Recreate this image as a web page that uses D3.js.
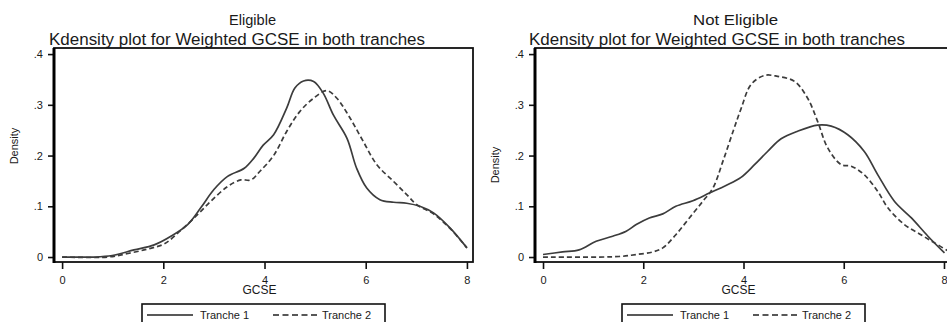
<!DOCTYPE html>
<html>
<head>
<meta charset="utf-8">
<script src="https://cdn.jsdelivr.net/npm/d3@7"></script>
<style>
  body { margin: 0; background: #fff; }
  svg { display: block; }
  text { font-family: "Liberation Sans", Arial, sans-serif; fill: #1a1a1a; }
</style>
</head>
<body>
<svg id="chart" width="947" height="322"></svg>
<script>
// values: [GCSE, density]
const xTicks = [0, 2, 4, 6, 8]
const yTicks = [0, 0.1, 0.2, 0.3, 0.4]
const yTickLabels = ['0', '.1', '.2', '.3', '.4']
const seriesNames = ['Tranche 1', 'Tranche 2']

const eligibleT1 = [[0,0],[0.63,0],[0.99,0.003],[1.42,0.014],[1.82,0.024],[2.15,0.041],[2.48,0.064],[2.74,0.097],[3.0,0.133],[3.27,0.159],[3.6,0.175],[3.79,0.195],[3.97,0.22],[4.18,0.241],[4.44,0.294],[4.6,0.333],[4.77,0.347],[4.97,0.346],[5.16,0.323],[5.36,0.28],[5.63,0.234],[5.82,0.175],[6.02,0.136],[6.28,0.113],[6.55,0.108],[6.81,0.106],[7.07,0.1],[7.34,0.087],[7.67,0.057],[8.0,0.018]]
const eligibleT2 = [[0,0],[0.9,0],[1.3,0.007],[1.7,0.016],[2.02,0.026],[2.34,0.052],[2.67,0.083],[2.94,0.11],[3.27,0.139],[3.53,0.152],[3.73,0.152],[3.91,0.169],[4.18,0.2],[4.44,0.248],[4.7,0.287],[4.97,0.313],[5.23,0.328],[5.43,0.313],[5.69,0.274],[5.95,0.228],[6.22,0.182],[6.55,0.149],[6.81,0.123],[7.01,0.103],[7.34,0.085],[7.67,0.056],[8.0,0.018]]
const notEligibleT1 = [[0,0.005],[0.39,0.01],[0.72,0.014],[1.06,0.031],[1.39,0.041],[1.66,0.051],[1.86,0.064],[2.12,0.077],[2.39,0.085],[2.65,0.1],[2.99,0.111],[3.32,0.126],[3.65,0.141],[3.95,0.157],[4.22,0.182],[4.48,0.208],[4.75,0.233],[5.08,0.248],[5.48,0.26],[5.75,0.258],[6.08,0.241],[6.41,0.208],[6.68,0.162],[7.01,0.11],[7.35,0.077],[7.68,0.041],[8.01,0.008]]
const notEligibleT2 = [[0,0],[1.52,0.001],[1.86,0.005],[2.19,0.01],[2.39,0.018],[2.65,0.044],[2.92,0.077],[3.19,0.11],[3.39,0.136],[3.59,0.189],[3.8,0.25],[3.95,0.292],[4.15,0.34],[4.42,0.358],[4.68,0.356],[5.02,0.346],[5.28,0.313],[5.48,0.267],[5.68,0.215],[5.95,0.182],[6.15,0.179],[6.41,0.162],[6.68,0.129],[6.88,0.097],[7.21,0.064],[7.54,0.044],[7.81,0.028],[8.08,0.012]]

const svg = d3.select('#chart')
const lineColor = '#3c3c3c'

const panel = (p) => {
    const x = d3.scaleLinear().domain([-0.16, 8.12]).range([p.left, p.right])
    const y = d3.scaleLinear().domain([-0.0098, 0.412]).range([262, 48])
    const g = svg.append('g')

    // titles
    g.append('text').attr('x', p.titleX).attr('y', 24.5).attr('text-anchor', 'middle')
        .attr('font-size', 15.5).attr('textLength', p.titleW).attr('lengthAdjust', 'spacingAndGlyphs')
        .text(p.title)
    g.append('text').attr('x', p.subX).attr('y', 44.5).attr('text-anchor', 'middle')
        .attr('font-size', 16).attr('textLength', 376).attr('lengthAdjust', 'spacingAndGlyphs')
        .text('Kdensity plot for Weighted GCSE in both tranches')

    // y axis
    const yAxis = d3.axisLeft(y).tickValues(yTicks).tickSize(6).tickPadding(5)
        .tickFormat((d, i) => yTickLabels[i])
    g.append('g').attr('transform', `translate(${p.left},0)`).call(yAxis)
        .call(a => a.select('.domain').remove())
        .call(a => a.selectAll('line').attr('stroke', '#111').attr('stroke-width', 1.6))
        .call(a => a.selectAll('text').attr('font-size', 11).attr('fill', '#1a1a1a'))

    // x axis
    const xAxis = d3.axisBottom(x).tickValues(xTicks).tickSize(7).tickPadding(7)
    g.append('g').attr('transform', 'translate(0,262)').call(xAxis)
        .call(a => a.select('.domain').remove())
        .call(a => a.selectAll('line').attr('stroke', '#111').attr('stroke-width', 1.6))
        .call(a => a.selectAll('text').attr('font-size', 11).attr('fill', '#1a1a1a'))

    g.append('text').attr('x', x(3.9)).attr('y', 294).attr('text-anchor', 'middle')
        .attr('font-size', 12).text('GCSE')
    g.append('text').attr('transform', `translate(${p.left - 36},${p.densY}) rotate(-90)`)
        .attr('text-anchor', 'middle').attr('font-size', 11).text('Density')

    // frame
    g.append('rect').attr('x', p.left).attr('y', 48).attr('width', p.right - p.left).attr('height', 214)
        .attr('fill', 'none').attr('stroke', '#111').attr('stroke-width', 1.8)
    g.append('line').attr('x1', p.left).attr('x2', p.left).attr('y1', 48).attr('y2', 263)
        .attr('stroke', '#000').attr('stroke-width', 3)

    const line = d3.line().x(d => x(d[0])).y(d => y(d[1])).curve(d3.curveCatmullRom.alpha(0.5))
    g.append('path').datum(p.t2).attr('d', line).attr('fill', 'none')
        .attr('stroke', lineColor).attr('stroke-width', 1.7).attr('stroke-dasharray', '5,3')
    g.append('path').datum(p.t1).attr('d', line).attr('fill', 'none')
        .attr('stroke', lineColor).attr('stroke-width', 1.7)

    // legend
    const lg = g.append('g').attr('transform', `translate(${p.legX},304)`)
    lg.append('rect').attr('width', 243).attr('height', 24).attr('fill', '#fff')
        .attr('stroke', '#111').attr('stroke-width', 1.6)
    lg.append('line').attr('x1', 5).attr('x2', 51).attr('y1', 11).attr('y2', 11)
        .attr('stroke', '#222').attr('stroke-width', 1.5)
    lg.append('text').attr('x', 58).attr('y', 15).attr('font-size', 11).text(seriesNames[0])
    lg.append('line').attr('x1', 131).attr('x2', 178).attr('y1', 11).attr('y2', 11)
        .attr('stroke', '#222').attr('stroke-width', 1.5).attr('stroke-dasharray', '6,3.5')
    lg.append('text').attr('x', 180).attr('y', 15).attr('font-size', 11).text(seriesNames[1])
}

panel({ left: 54, right: 473, title: 'Eligible', titleX: 252.5, titleW: 47, subX: 237,
    densY: 146, legX: 142, t1: eligibleT1, t2: eligibleT2 })
panel({ left: 535, right: 950, title: 'Not Eligible', titleX: 735.5, titleW: 85, subX: 717,
    densY: 165, legX: 622, t1: notEligibleT1, t2: notEligibleT2 })
</script>
</body>
</html>
